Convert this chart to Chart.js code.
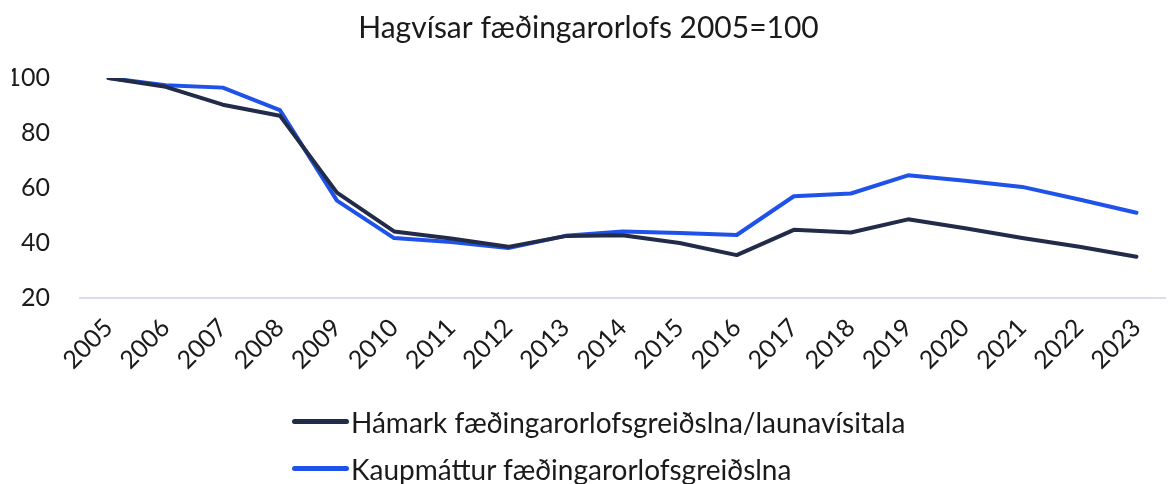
<!DOCTYPE html>
<html>
<head>
<meta charset="utf-8">
<script src="https://cdn.jsdelivr.net/npm/chart.js@4/dist/chart.umd.min.js"></script>
<style>
  html, body { margin: 0; padding: 0; background: #fff; }
  #wrap { position: relative; width: 1174px; height: 484px; }
  #legend { position: absolute; left: 292px; top: 398px; font-family: Lato, sans-serif; font-size: 28px; color: #1a1a1a; }
  #legend .row { display: flex; align-items: center; height: 47px; }
  #legend .swatch { width: 57px; height: 5px; border-radius: 3px; margin-right: 2px; }
</style>
</head>
<body>
<div id="wrap">
  <canvas id="grafHagvisar" width="1174" height="484"></canvas>
  <div id="legend"></div>
</div>
<script>
// gögn lesin af myndinni (2005=100)
const ar = ['2005','2006','2007','2008','2009','2010','2011','2012','2013','2014',
            '2015','2016','2017','2018','2019','2020','2021','2022','2023'];
const hamarkLaunavisitala = [100, 96.8, 90.3, 86.3, 58.3, 44.2, 41.6, 38.6, 42.5, 42.8,
                             40.0, 35.6, 44.8, 43.8, 48.6, 45.4, 41.8, 38.6, 35.0];
const kaupmattur = [100, 97.4, 96.5, 88.3, 55.4, 41.8, 40.4, 38.2, 42.6, 44.2,
                    43.6, 42.9, 57.0, 58.0, 64.6, 62.6, 60.4, 55.8, 51.0];
const yTicks = [20, 40, 60, 80, 100];

const litir = ['#222b47', '#1f52e8'];
const heiti = ['Hámark fæðingarorlofsgreiðslna/launavísitala', 'Kaupmáttur fæðingarorlofsgreiðslna'];

const ctx = document.getElementById('grafHagvisar').getContext('2d');
const graf = new Chart(ctx, {
  type: 'line',
  data: {
    labels: ar,
    datasets: [
      { label: heiti[0], data: hamarkLaunavisitala, borderColor: litir[0], borderWidth: 4,
        pointRadius: 0, tension: 0, borderJoinStyle: 'round', borderCapStyle: 'round' },
      { label: heiti[1], data: kaupmattur, borderColor: litir[1], borderWidth: 4,
        pointRadius: 0, tension: 0, borderJoinStyle: 'round', borderCapStyle: 'round' }
    ]
  },
  options: {
    responsive: false,
    animation: false,
    layout: { padding: { left: 12, right: 9, top: 0, bottom: 106 } },
    plugins: {
      legend: { display: false },
      tooltip: { enabled: false },
      title: {
        display: true,
        text: 'Hagvísar fæðingarorlofs 2005=100',
        color: '#1a1a1a',
        font: { family: 'Lato', size: 30, weight: 'normal' },
        padding: { top: 10, bottom: 32 }
      }
    },
    scales: {
      x: {
        offset: true,
        grid: { display: false },
        border: { display: true, color: '#dcdcec', width: 2 },
        ticks: {
          color: '#1a1a1a',
          font: { family: 'Lato', size: 25 },
          minRotation: 45, maxRotation: 45,
          padding: 7,
          autoSkip: false
        },
        afterFit: s => { s.height = 80; }
      },
      y: {
        min: 20, max: 100,
        afterBuildTicks: s => { s.ticks = yTicks.map(v => ({ value: v })); },
        grid: { display: false },
        border: { display: false },
        ticks: {
          color: '#1a1a1a',
          font: { family: 'Lato', size: 25 },
          padding: 22
        },
        afterFit: s => { s.width = 68; }
      }
    }
  }
});

// skýringar undir grafinu, hver röð fyrir sig
const legend = document.getElementById('legend');
graf.data.datasets.forEach(ds => {
  const row = document.createElement('div');
  row.className = 'row';
  row.innerHTML = `<span class="swatch" style="background:${ds.borderColor}"></span><span>${ds.label}</span>`;
  legend.appendChild(row);
});
</script>
</body>
</html>
